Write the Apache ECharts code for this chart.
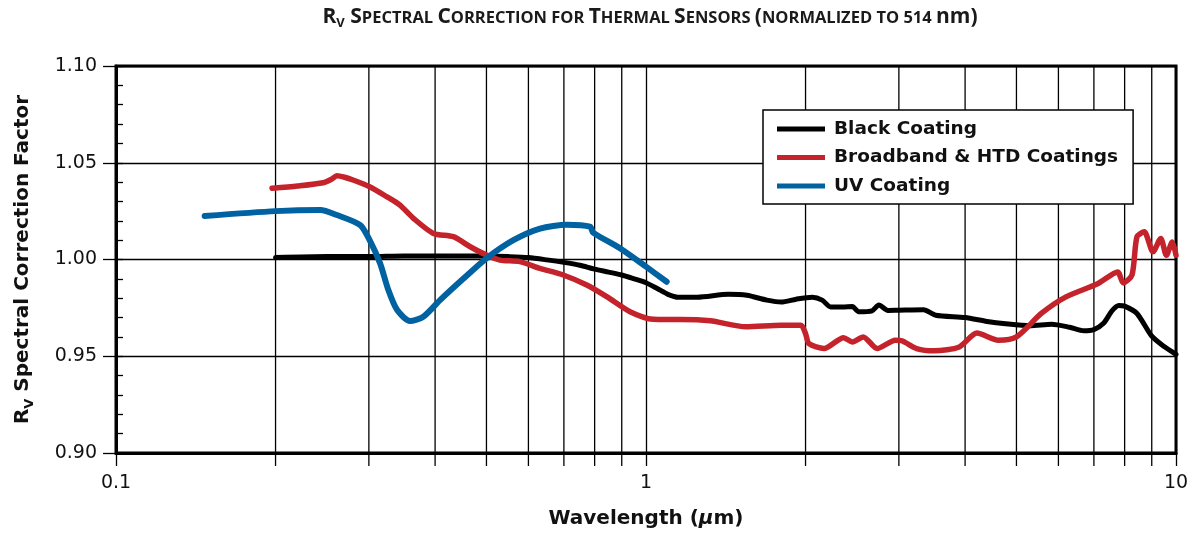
<!DOCTYPE html>
<html>
<head>
<meta charset="utf-8">
<script src="https://cdn.jsdelivr.net/npm/echarts@6/dist/echarts.min.js"></script>
<style>html,body{margin:0;padding:0;background:#fff}#c{width:1196px;height:535px}</style>
</head>
<body>
<div id="c"></div>
<script>
// ---- data ----
const blackWl  = [0.2, 0.25, 0.3, 0.35, 0.4, 0.45, 0.5, 0.55, 0.6, 0.65, 0.7, 0.75, 0.8, 0.85, 0.9, 0.95, 1.0, 1.05, 1.1, 1.15, 1.25, 1.43, 1.55, 1.69, 1.8, 1.92, 2.06, 2.15, 2.23, 2.35, 2.45, 2.52, 2.67, 2.75, 2.86, 3.0, 3.34, 3.52, 4.0, 4.4, 4.77, 5.3, 5.83, 6.3, 6.7, 7.0, 7.3, 7.57, 7.8, 8.0, 8.44, 9.0, 9.5, 10];
const blackVal = [1.001, 1.0015, 1.0015, 1.0018, 1.0018, 1.0018, 1.0018, 1.0015, 1.001, 0.9998, 0.9985, 0.997, 0.995, 0.9935, 0.992, 0.990, 0.988, 0.985, 0.982, 0.9805, 0.9805, 0.982, 0.9815, 0.979, 0.978, 0.9795, 0.9805, 0.979, 0.9755, 0.9755, 0.9757, 0.973, 0.9735, 0.9765, 0.9737, 0.9738, 0.974, 0.9712, 0.970, 0.968, 0.9668, 0.9658, 0.9666, 0.965, 0.9632, 0.9638, 0.967, 0.9734, 0.9762, 0.9759, 0.9721, 0.9604, 0.955, 0.951];

const redWl  = [0.197, 0.22, 0.246, 0.255, 0.261, 0.27, 0.28, 0.301, 0.324, 0.343, 0.364, 0.397, 0.433, 0.466, 0.5, 0.53, 0.578, 0.631, 0.698, 0.773, 0.843, 0.933, 1.032, 1.098, 1.16, 1.322, 1.543, 1.80, 1.96, 2.0, 2.03, 2.167, 2.36, 2.45, 2.57, 2.73, 2.954, 3.04, 3.24, 3.50, 3.90, 4.21, 4.62, 5.0, 5.57, 6.20, 7.13, 7.76, 7.95, 8.26, 8.44, 8.71, 9.05, 9.36, 9.59, 9.84, 10];
const redVal = [1.0368, 1.038, 1.0397, 1.0415, 1.0433, 1.0425, 1.0411, 1.0376, 1.0325, 1.0282, 1.0213, 1.0135, 1.0118, 1.0066, 1.0023, 0.9997, 0.9989, 0.9954, 0.992, 0.9868, 0.9808, 0.973, 0.9691, 0.969, 0.969, 0.9683, 0.9652, 0.966, 0.966, 0.9617, 0.9565, 0.954, 0.9596, 0.9574, 0.960, 0.954, 0.9583, 0.958, 0.954, 0.9528, 0.9548, 0.962, 0.9583, 0.960, 0.9721, 0.9807, 0.9876, 0.9936, 0.9879, 0.992, 1.0117, 1.0143, 1.004, 1.0109, 1.0022, 1.0091, 1.0022];

const blueWl  = [0.147, 0.2, 0.243, 0.261, 0.289, 0.301, 0.315, 0.3265, 0.339, 0.3587, 0.38, 0.4087, 0.452, 0.5, 0.562, 0.631, 0.7085, 0.784, 0.795, 0.893, 1.0, 1.094];
const blueVal = [1.0225, 1.025, 1.0256, 1.023, 1.0178, 1.010, 0.998, 0.9842, 0.974, 0.9682, 0.9704, 0.979, 0.990, 1.0006, 1.010, 1.016, 1.018, 1.017, 1.0139, 1.0058, 0.9963, 0.9885];

const seriesNames = ['Black Coating', 'Broadband & HTD Coatings', 'UV Coating'];
const minorWl = [0.2, 0.3, 0.4, 0.5, 0.6, 0.7, 0.8, 0.9, 2, 3, 4, 5, 6, 7, 8, 9];
const xMin = 0.1, xMax = 10;
const yMin = 0.90, yMax = 1.10, yStep = 0.05;

// ---- chart ----
const zip = (a, b) => a.map((v, i) => [v, b[i]]);
const chart = echarts.init(document.getElementById('c'), null, {renderer: 'canvas'});
const SANS = 'DejaVu Sans';
const TICK = 13;

chart.setOption({
  animation: false,
  backgroundColor: '#fff',
  title: {
    left: 645, top: -1, textAlign: 'center',
    text: '{c|R}{sub|V}{c| S}{k|PECTRAL }{c|C}{k|ORRECTION FOR }{c|T}{k|HERMAL }{c|S}{k|ENSORS }{c|(}{k|NORMALIZED TO 514 }{c|nm)}',
    textStyle: {
      rich: {
        c: {fontFamily: 'Open Sans', fontWeight: 'bold', fontSize: 21, color: '#1a1a1a', lineHeight: 26, verticalAlign: 'middle'},
        k: {fontFamily: 'Open Sans', fontWeight: 'bold', fontSize: 16.5, color: '#1a1a1a', lineHeight: 26, verticalAlign: 'middle', padding: [3, 0, 0, 0]},
        sub: {fontFamily: 'Open Sans', fontWeight: 'bold', fontSize: 13, color: '#1a1a1a', lineHeight: 14, verticalAlign: 'bottom'}
      }
    }
  },
  grid: {left: 116, top: 66, width: 1060, height: 387, show: true, borderColor: '#000', borderWidth: 3, backgroundColor: 'transparent'},
  legend: {
    data: seriesNames,
    orient: 'vertical',
    left: 763, top: 110,
    padding: [9, 15, 8, 14],
    itemWidth: 48, itemHeight: 5, itemGap: 8.5,
    icon: 'rect',
    backgroundColor: '#fff',
    borderColor: '#000', borderWidth: 1.5, borderRadius: 0,
    textStyle: {fontFamily: SANS, fontWeight: 'bold', fontSize: 18.5, color: '#111', lineHeight: 20, padding: [0, 0, 0, 4]}
  },
  xAxis: {
    type: 'log', logBase: 10, min: xMin, max: xMax,
    name: '{n|Wavelength (}{i|μ}{n|m)}',
    nameLocation: 'middle', nameGap: 56,
    nameTextStyle: {rich: {
      n: {fontFamily: SANS, fontWeight: 'bold', fontSize: 20, color: '#111'},
      i: {fontFamily: SANS, fontWeight: 'bold', fontStyle: 'italic', fontSize: 20, color: '#111'}
    }},
    axisLine: {show: true, lineStyle: {color: '#000', width: 3}},
    axisTick: {show: true, length: TICK, lineStyle: {color: '#000', width: 1.3}},
    axisLabel: {fontFamily: SANS, fontSize: 19, color: '#111', margin: 21},
    splitLine: {show: true, lineStyle: {color: '#000', width: 1.3}},
    minorTick: {show: false}
  },
  yAxis: [{
    type: 'value', min: yMin, max: yMax, interval: yStep, position: 'left',
    name: '{n|R}{s|V}{n| Spectral Correction Factor}',
    nameLocation: 'middle', nameGap: 80, nameRotate: 90,
    nameTextStyle: {rich: {
      n: {fontFamily: SANS, fontWeight: 'bold', fontSize: 20, color: '#111', lineHeight: 26, verticalAlign: 'middle'},
      s: {fontFamily: SANS, fontWeight: 'bold', fontSize: 13, color: '#111', lineHeight: 14, verticalAlign: 'bottom'}
    }},
    axisLine: {show: true, lineStyle: {color: '#000', width: 3}},
    axisTick: {show: true, length: TICK, lineStyle: {color: '#000', width: 1.3}},
    axisLabel: {fontFamily: SANS, fontSize: 19, color: '#111', margin: 19, formatter: v => v.toFixed(2)},
    splitLine: {show: true, lineStyle: {color: '#000', width: 1.3}}
  }, {
    type: 'value', min: yMin, max: yMax, interval: yStep, position: 'left', offset: 0,
    axisLine: {show: false},
    axisLabel: {show: false},
    axisTick: {show: true, inside: true, length: 7, lineStyle: {color: '#000', width: 1.3}},
    minorTick: {show: true, splitNumber: 5, length: 7, lineStyle: {color: '#000', width: 1.3}},
    splitLine: {show: false}
  }],
  series: [
    {
      type: 'custom', name: 'minor', silent: true, clip: false, z: 1,
      data: minorWl.map(v => [v, yMin]),
      renderItem: function (params, api) {
        const v = api.value(0);
        const top = api.coord([v, yMax]);
        const bot = api.coord([v, yMin]);
        return {type: 'line', shape: {x1: top[0], y1: top[1], x2: bot[0], y2: bot[1] + TICK},
                style: {stroke: '#000', lineWidth: 1.3}};
      }
    },
    {name: seriesNames[0], type: 'line', data: zip(blackWl, blackVal), showSymbol: false, smooth: 0.25, z: 3,
     color: '#000', lineStyle: {color: '#000', width: 5, cap: 'round', join: 'round'}},
    {name: seriesNames[1], type: 'line', data: zip(redWl, redVal), showSymbol: false, smooth: 0.25, z: 4,
     color: '#C4232B', lineStyle: {color: '#C4232B', width: 5.5, cap: 'round', join: 'round'}},
    {name: seriesNames[2], type: 'line', data: zip(blueWl, blueVal), showSymbol: false, smooth: 0.25, z: 5,
     color: '#0062A1', lineStyle: {color: '#0062A1', width: 6, cap: 'round', join: 'round'}}
  ]
});
</script>
</body>
</html>
